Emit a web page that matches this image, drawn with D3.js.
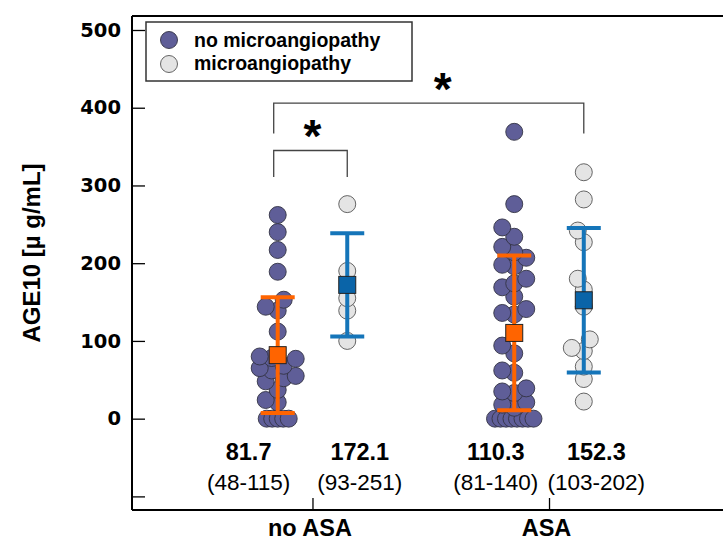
<!DOCTYPE html>
<html>
<head>
<meta charset="utf-8">
<script src="https://cdn.jsdelivr.net/npm/d3@7"></script>
<style>
  body { margin: 0; background: #fff; }
  svg { display: block; font-family: "Liberation Sans", Arial, sans-serif; }
</style>
</head>
<body>
<div id="wrapper"></div>
<script>
// categories on the x axis and the two patient series
const categories = ["no ASA", "ASA"];
const seriesNames = ["no microangiopathy", "microangiopathy"];

// AGE10 values, one array per group
const noAsaNoMicro = [262, 240, 217, 189, 153, 144, 139, 112, 80, 78, 77, 68, 65, 62,
  55, 52, 48, 37, 24, 21, 0, 0, 0, 0, 0];
const noAsaMicro = [276, 190, 155, 139, 100];
const asaNoMicro = [369, 276, 246, 234, 221, 214, 207, 198, 196, 180, 174, 169, 157,
  141, 136, 134, 94, 84, 62, 59, 39, 35, 33, 21, 18, 14, 0, 0, 0, 0, 0, 0, 0, 0];
const asaMicro = [317, 282, 242, 227, 180, 166, 144, 102, 91, 87, 67, 51, 22];

// mean +/- SD shown as square + error bar
const groupMeans = [81.7, 172.1, 110.3, 152.3];
const groupSD = [74.5, 66.5, 99.5, 93];
const meanLabels = ["81.7", "172.1", "110.3", "152.3"];
const rangeLabels = ["(48-115)", "(93-251)", "(81-140)", "(103-202)"];

const yTicks = [500, 400, 300, 200, 100, 0, -100];

// significance brackets: from group, to group, height (data units), leg bottom
const brackets = [
  { from: 0, to: 1, top: 345, bottom: 311 },
  { from: 0, to: 3, top: 406, bottom: 367 },
];

const groups = [
  { cat: 0, series: 0, values: noAsaNoMicro },
  { cat: 0, series: 1, values: noAsaMicro },
  { cat: 1, series: 0, values: asaNoMicro },
  { cat: 1, series: 1, values: asaMicro },
];

const fills = ["#5f5e98", "#e4e4e4"];
const strokes = ["#333344", "#555"];
const barColors = ["#ff6400", "#1575b9"];
const squareColors = ["#ff6400", "#0a64a8"];

let dimensions = {
  width: 723,
  height: 542,
  margin: { top: 16, right: -2, bottom: 32, left: 132 },
};
dimensions.boundedWidth = dimensions.width - dimensions.margin.left - dimensions.margin.right;
dimensions.boundedHeight = dimensions.height - dimensions.margin.top - dimensions.margin.bottom;

const wrapper = d3.select("#wrapper")
  .append("svg")
  .attr("width", dimensions.width)
  .attr("height", dimensions.height);

const bounds = wrapper.append("g")
  .attr("transform", `translate(${dimensions.margin.left},${dimensions.margin.top})`);

// x: category 1 and 2, series sit either side of the tick
const xScale = d3.scaleLinear()
  .domain([0.237, 2.744])
  .range([0, dimensions.boundedWidth]);
const seriesOffset = [-0.147, 0.147];
const groupX = (g) => xScale(g.cat + 1 + seriesOffset[g.series]);

const yScale = d3.scaleLinear()
  .domain([-117.5, 518])
  .range([dimensions.boundedHeight, 0]);

// simple dodge so that markers do not sit on top of each other
function dodge(values, cx) {
  const placed = [];
  const counts = d3.rollup(values, (v) => v.length, (d) => d);
  const tieIndex = new Map();
  const sorted = values.slice().sort((a, b) => a - b);
  const cands = [0, -6, 6, -12, 12, -18, 18];
  sorted.forEach((v) => {
    const py = yScale(v);
    const n = counts.get(v);
    let px;
    if (n > 1) {
      const i = tieIndex.get(v) || 0;
      tieIndex.set(v, i + 1);
      px = cx + (i - (n - 1) / 2) * 5.5;
    } else {
      let best = 0, bestD = -1;
      for (const o of cands) {
        const d = placed.length ? d3.min(placed, (p) => Math.hypot(p.x - (cx + o), p.y - py)) : Infinity;
        if (d >= 12) { best = o; break; }
        if (d > bestD) { bestD = d; best = o; }
      }
      px = cx + best;
    }
    placed.push({ v, x: px, y: py });
  });
  return placed;
}

// frame
const frame = bounds.append("g").attr("stroke", "#000").attr("stroke-width", 2);
frame.append("line").attr("x1", 0).attr("x2", 0).attr("y1", 0).attr("y2", dimensions.boundedHeight);
frame.append("line").attr("x1", 0).attr("x2", dimensions.boundedWidth).attr("y1", 0).attr("y2", 0);
frame.append("line").attr("x1", 0).attr("x2", dimensions.boundedWidth)
  .attr("y1", dimensions.boundedHeight).attr("y2", dimensions.boundedHeight);

// y axis with inward ticks
const yAxisGenerator = d3.axisLeft(yScale)
  .tickValues(yTicks)
  .tickSize(-13)
  .tickPadding(11)
  .tickFormat((d) => (d < 0 ? "" : d));
const yAxis = bounds.append("g").call(yAxisGenerator);
yAxis.select(".domain").remove();
yAxis.selectAll(".tick line").attr("stroke", "#000").attr("stroke-width", 1.3);
yAxis.selectAll(".tick text")
  .attr("fill", "#000")
  .style("font-family", "'DejaVu Sans', sans-serif")
  .style("font-weight", "bold")
  .style("font-size", "19.5px");

// x axis
const xAxisGenerator = d3.axisBottom(xScale)
  .tickValues([1, 2])
  .tickSize(-12)
  .tickPadding(9)
  .tickFormat((d) => categories[d - 1]);
const xAxis = bounds.append("g")
  .attr("transform", `translate(0,${dimensions.boundedHeight})`)
  .call(xAxisGenerator);
xAxis.select(".domain").remove();
xAxis.selectAll(".tick line").attr("stroke", "#000").attr("stroke-width", 1.3);
xAxis.selectAll(".tick text")
  .attr("fill", "#000")
  .attr("dx", "-3")
  .style("font-weight", "bold")
  .style("font-size", "23.5px");

// y axis title
wrapper.append("text")
  .attr("transform", "translate(40,253) rotate(-90)")
  .attr("text-anchor", "middle")
  .style("font-weight", "bold")
  .style("font-size", "24px")
  .text("AGE10 [\u00b5 g/mL]");

// points
groups.forEach((g) => {
  const pts = dodge(g.values, groupX(g));
  bounds.append("g")
    .selectAll("circle")
    .data(pts)
    .join("circle")
    .attr("cx", (d) => d.x)
    .attr("cy", (d) => d.y)
    .attr("r", 8.5)
    .attr("fill", fills[g.series])
    .attr("stroke", strokes[g.series])
    .attr("stroke-width", 0.9);
});

// mean +/- SD
groups.forEach((g, i) => {
  const cx = groupX(g);
  const eb = bounds.append("g").attr("stroke", barColors[g.series]).attr("stroke-width", 4);
  const hi = yScale(groupMeans[i] + groupSD[i]);
  const lo = yScale(groupMeans[i] - groupSD[i]);
  eb.append("line").attr("x1", cx).attr("x2", cx).attr("y1", hi).attr("y2", lo);
  eb.append("line").attr("x1", cx - 17).attr("x2", cx + 17).attr("y1", hi).attr("y2", hi);
  eb.append("line").attr("x1", cx - 17).attr("x2", cx + 17).attr("y1", lo).attr("y2", lo);
  bounds.append("rect")
    .attr("x", cx - 8.5)
    .attr("y", yScale(groupMeans[i]) - 8.5)
    .attr("width", 17)
    .attr("height", 17)
    .attr("fill", squareColors[g.series])
    .attr("stroke", "#222")
    .attr("stroke-width", 1);
});

// value labels below each group (offset from the category tick)
const labelOffset = [-0.27, 0.2, -0.225, 0.2];
groups.forEach((g, i) => {
  const lx = xScale(g.cat + 1 + labelOffset[i]);
  bounds.append("text")
    .attr("x", lx)
    .attr("y", 444)
    .attr("text-anchor", "middle")
    .style("font-weight", "bold")
    .style("font-size", "23.5px")
    .text(meanLabels[i]);
  bounds.append("text")
    .attr("x", lx)
    .attr("y", 474)
    .attr("text-anchor", "middle")
    .style("font-size", "22.5px")
    .text(rangeLabels[i]);
});

// significance brackets
brackets.forEach((b) => {
  const x1 = groupX(groups[b.from]) - 4;
  const x2 = groupX(groups[b.to]);
  const yt = yScale(b.top);
  const yb = yScale(b.bottom);
  bounds.append("path")
    .attr("d", `M${x1},${yb}V${yt}H${x2}V${yb}`)
    .attr("fill", "none")
    .attr("stroke", "#444")
    .attr("stroke-width", 1.3);
  bounds.append("text")
    .attr("x", (x1 + x2) / 2 + (b.to - b.from > 1 ? 14 : 2))
    .attr("y", yt + 2)
    .attr("text-anchor", "middle")
    .style("font-weight", "bold")
    .style("font-size", "46px")
    .text("*");
});

// legend
const legend = wrapper.append("g").attr("transform", "translate(146,22)");
legend.append("rect")
  .attr("width", 266)
  .attr("height", 59)
  .attr("fill", "#fff")
  .attr("stroke", "#333")
  .attr("stroke-width", 1.5);
seriesNames.forEach((name, i) => {
  legend.append("circle")
    .attr("cx", 23)
    .attr("cy", 18 + i * 24)
    .attr("r", 8.5)
    .attr("fill", fills[i])
    .attr("stroke", strokes[i])
    .attr("stroke-width", 0.9);
  legend.append("text")
    .attr("x", 48)
    .attr("y", 25 + i * 23)
    .style("font-weight", "bold")
    .style("font-size", "19.5px")
    .text(name);
});
</script>
</body>
</html>
